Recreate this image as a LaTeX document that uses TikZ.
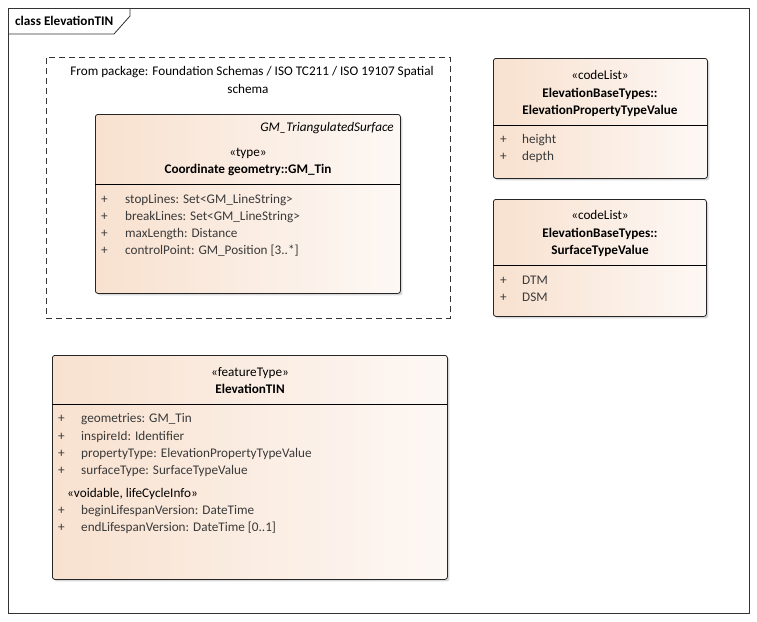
\documentclass[tikz,border=0pt]{standalone}
\usepackage{fontspec}
\setmainfont{Carlito}
\usetikzlibrary{shadows}
\definecolor{peachL}{HTML}{F8E1CF}
\definecolor{peachR}{HTML}{FDF8F5}
\definecolor{attr}{HTML}{3A3A3A}
\newcommand{\fsz}{\fontsize{13.2}{15}\selectfont}
\begin{document}
\begin{tikzpicture}[x=1pt,y=-1pt,
  cls/.style={draw=black!85, line width=0.8pt, rounded corners=2.5pt, left color=peachL, right color=peachR,
     anchor=north west, inner sep=0pt, drop shadow={shadow xshift=2pt, shadow yshift=-2pt, opacity=0.25, fill=black!60}},
  txt/.style={font=\fsz, inner sep=0pt, anchor=base, text=black},
  attrtxt/.style={font=\fsz, inner sep=0pt, anchor=base west, text=attr},
  bold/.style={txt, font=\fsz\bfseries},
  sep/.style={draw=black, line width=0.8pt}
]
\useasboundingbox (0,0) rectangle (757,621);
\fill[white] (0,0) rectangle (757,621);
% outer frame
\node[draw=black!80, line width=0.8pt, anchor=north west, minimum width=741pt, minimum height=605pt, inner sep=0pt] (frame) at (8,8) {};
\draw[black!80, line width=0.8pt] (8,34) -- (114,34) -- (130,16) -- (130,8);
\node[bold, anchor=base west] (title) at (15,25) {class ElevationTIN};

% package dashed box
\node[draw=black!80, dashed, dash pattern=on 6pt off 4pt, line width=0.8pt, anchor=north west, minimum width=404pt, minimum height=261pt, inner sep=0pt] (pkg) at (46,57) {};
\node[txt] (pkg1) at (252,75) {From package: Foundation Schemas / ISO TC211 / ISO 19107 Spatial};
\node[txt] (pkg2) at (248,93) {schema};

% GM_Tin
\node[cls, minimum width=305pt, minimum height=179pt] (tin) at (95,114) {};
\draw[sep] (95,184) -- (400,184);
\node[txt, anchor=base east, font=\fsz\itshape] (tinsup) at (394,131) {GM\_TriangulatedSurface};
\node[txt] (tinst) at (248,156) {«type»};
\node[bold] (tinname) at (248,173) {Coordinate geometry::GM\_Tin};
\foreach \y/\t [count=\i] in {203/{stopLines: Set<GM\_LineString>},220/{breakLines: Set<GM\_LineString>},237/{maxLength: Distance},254/{controlPoint: GM\_Position [3..*]}}{
  \node[attrtxt] (tinp\i) at (101,\y) {+};
  \node[attrtxt] (tina\i) at (125,\y) {\t};
}

% ElevationPropertyTypeValue
\node[cls, minimum width=214pt, minimum height=120pt] (eptv) at (493,58) {};
\draw[sep] (493,125) -- (707,125);
\node[txt] (eptvst) at (600,79) {«codeList»};
\node[bold] (eptvn1) at (600,97) {ElevationBaseTypes::};
\node[bold] (eptvn2) at (600,114) {ElevationPropertyTypeValue};
\node[attrtxt] (eptvp1) at (500,143) {+};
\node[attrtxt] (eptva1) at (522,143) {height};
\node[attrtxt] (eptvp2) at (500,160) {+};
\node[attrtxt] (eptva2) at (522,160) {depth};

% SurfaceTypeValue
\node[cls, minimum width=213pt, minimum height=117pt] (stv) at (493,199) {};
\draw[sep] (493,265) -- (706,265);
\node[txt] (stvst) at (600,219) {«codeList»};
\node[bold] (stvn1) at (600,237) {ElevationBaseTypes::};
\node[bold] (stvn2) at (600,254) {SurfaceTypeValue};
\node[attrtxt] (stvp1) at (500,284) {+};
\node[attrtxt] (stva1) at (522,284) {DTM};
\node[attrtxt] (stvp2) at (500,301) {+};
\node[attrtxt] (stva2) at (522,301) {DSM};

% ElevationTIN
\node[cls, minimum width=395pt, minimum height=224pt] (etin) at (52,355) {};
\draw[sep] (52,404) -- (447,404);
\node[txt] (etinst) at (250,376) {«featureType»};
\node[bold] (etinn) at (250,393) {ElevationTIN};
\foreach \y/\t [count=\i] in {422/{geometries: GM\_Tin},440/{inspireId: Identifier},457/{propertyType: ElevationPropertyTypeValue},474/{surfaceType: SurfaceTypeValue},514/{beginLifespanVersion: DateTime},531/{endLifespanVersion: DateTime [0..1]}}{
  \node[attrtxt] (etinp\i) at (58,\y) {+};
  \node[attrtxt] (etina\i) at (81,\y) {\t};
}
\node[txt, anchor=base west] (etinvoid) at (67,497) {«voidable, lifeCycleInfo»};
\end{tikzpicture}
\end{document}
